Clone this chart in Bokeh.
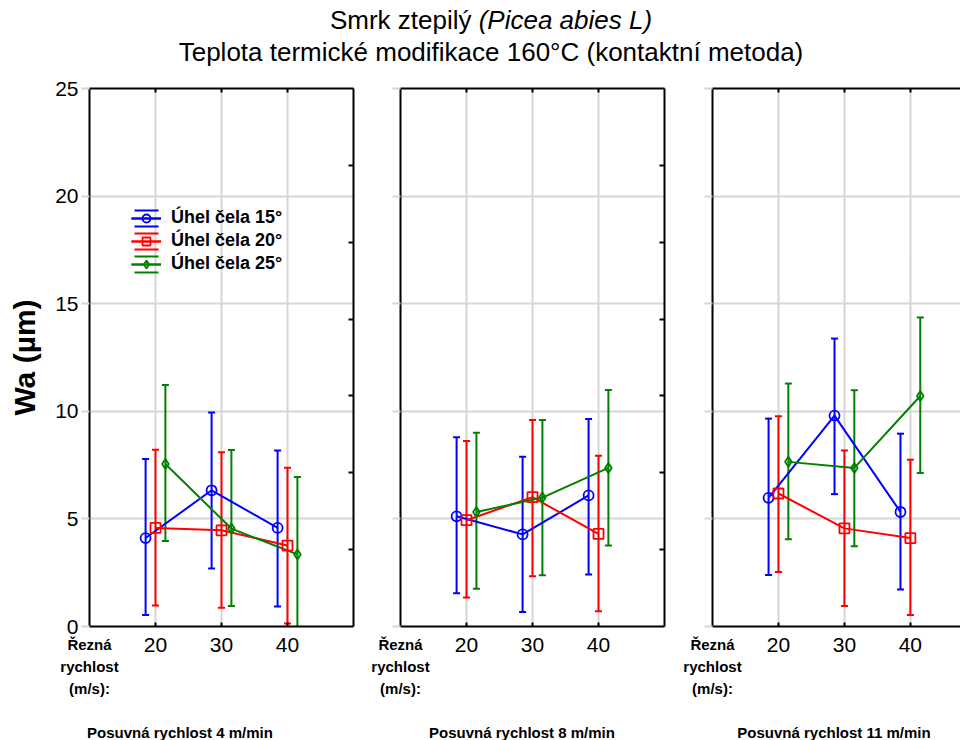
from bokeh.plotting import figure
from bokeh.models import (Range1d, LinearAxis, FixedTicker, Legend, LegendItem,
                          Div, ColumnDataSource, Grid, CustomLabelingPolicy)
from bokeh.layouts import row, column
from bokeh.transform import dodge
from bokeh.embed import file_html
from bokeh.resources import INLINE

# ---------------- data ----------------
cutting_speed = [20, 30, 40]
series_names = ["Úhel čela 15°", "Úhel čela 20°", "Úhel čela 25°"]
feed_titles = ["Posuvná rychlost 4 m/min", "Posuvná rychlost 8 m/min", "Posuvná rychlost 11 m/min"]
speed_caption = "Řezná\nrychlost\n(m/s):"
y_ticks = [0, 5, 10, 15, 20, 25]

# feed 4 m/min
f4_a15_mean = [4.11, 6.33, 4.58]
f4_a15_low = [0.54, 2.69, 0.93]
f4_a15_up = [7.78, 9.94, 8.18]
f4_a20_mean = [4.58, 4.47, 3.76]
f4_a20_low = [0.98, 0.87, 0.14]
f4_a20_up = [8.21, 8.10, 7.38]
f4_a25_mean = [7.55, 4.55, 3.35]
f4_a25_low = [3.97, 0.95, -0.25]
f4_a25_up = [11.22, 8.20, 6.95]

# feed 8 m/min
f8_a15_mean = [5.12, 4.28, 6.09]
f8_a15_low = [1.55, 0.67, 2.42]
f8_a15_up = [8.79, 7.89, 9.64]
f8_a20_mean = [4.94, 6.01, 4.30]
f8_a20_low = [1.35, 2.34, 0.71]
f8_a20_up = [8.62, 9.59, 7.93]
f8_a25_mean = [5.32, 5.99, 7.37]
f8_a25_low = [1.75, 2.38, 3.76]
f8_a25_up = [9.00, 9.59, 10.99]

# feed 11 m/min
f11_a15_mean = [5.98, 9.80, 5.32]
f11_a15_low = [2.39, 6.15, 1.72]
f11_a15_up = [9.66, 13.38, 8.96]
f11_a20_mean = [6.18, 4.56, 4.11]
f11_a20_low = [2.53, 0.95, 0.53]
f11_a20_up = [9.77, 8.18, 7.75]
f11_a25_mean = [7.65, 7.37, 10.71]
f11_a25_low = [4.05, 3.73, 7.13]
f11_a25_up = [11.29, 10.98, 14.36]

panels = [
    [(f4_a15_mean, f4_a15_low, f4_a15_up), (f4_a20_mean, f4_a20_low, f4_a20_up), (f4_a25_mean, f4_a25_low, f4_a25_up)],
    [(f8_a15_mean, f8_a15_low, f8_a15_up), (f8_a20_mean, f8_a20_low, f8_a20_up), (f8_a25_mean, f8_a25_low, f8_a25_up)],
    [(f11_a15_mean, f11_a15_low, f11_a15_up), (f11_a20_mean, f11_a20_low, f11_a20_up), (f11_a25_mean, f11_a25_low, f11_a25_up)],
]

# ---------------- style ----------------
FONT = "Liberation Sans"
COLORS = ["#0000ff", "#ff0000", "#008000"]
MARKERS = ["circle", "square", "diamond"]
OFFSETS = [-1.5, 0.0, 1.5]
GRID = "#d6d6d6"

layout_cfg = [
    dict(x_end=50, fw=264, bl=89, br=15, right=True, ylabels=True),
    dict(x_end=50, fw=264, bl=32, br=16, right=True, ylabels=False),
    dict(x_end=47.6, fw=248, bl=32, br=0, right=False, ylabels=False),
]


def no_labels():
    return CustomLabelingPolicy(code="for (const i of Array.from(indices)) { indices.unset(i) }\nreturn indices")


def make_panel(idx):
    cfg = layout_cfg[idx]
    p = figure(frame_width=cfg["fw"], frame_height=538,
               x_range=Range1d(10, cfg["x_end"]), y_range=Range1d(0, 25),
               x_axis_location=None, y_axis_location=None,
               output_backend="svg", toolbar_location=None,
               min_border_left=cfg["bl"], min_border_right=cfg["br"],
               min_border_top=20, min_border_bottom=76)
    p.outline_line_color = None
    p.background_fill_color = "white"
    p.border_fill_color = "white"
    for g in p.grid:
        g.visible = False

    p.add_layout(Grid(dimension=0, ticker=FixedTicker(ticks=cutting_speed),
                      grid_line_color=GRID, grid_line_width=2))
    p.add_layout(Grid(dimension=1, ticker=FixedTicker(ticks=y_ticks),
                      grid_line_color=GRID, grid_line_width=2))

    # left axis
    yl = LinearAxis(ticker=FixedTicker(ticks=y_ticks),
                    axis_line_width=2, axis_line_color="black",
                    major_tick_out=8, major_tick_in=0,
                    major_tick_line_color=GRID, major_tick_line_width=2,
                    minor_tick_out=0, minor_tick_in=0,
                    major_label_text_font=FONT,
                    major_label_text_color="black")
    if cfg["ylabels"]:
        yl.major_label_text_font_size = "21px"
        yl.major_label_standoff = 3
        yl.axis_label = "Wa (µm)"
        yl.axis_label_text_font = FONT
        yl.axis_label_text_font_size = "30px"
        yl.axis_label_text_font_style = "bold"
        yl.axis_label_text_color = "black"
        yl.axis_label_standoff = 11
    else:
        yl.major_label_text_font_size = "1px"
        yl.major_label_standoff = 0
        yl.major_label_policy = no_labels()
    p.add_layout(yl, "left")

    # bottom axis with cutting speed tick labels (short inward ticks)
    xb = LinearAxis(ticker=FixedTicker(ticks=cutting_speed),
                    axis_line_width=2, axis_line_color="black",
                    major_tick_out=0, major_tick_in=4,
                    major_tick_line_width=2, major_tick_line_color="black",
                    minor_tick_out=0, minor_tick_in=0,
                    major_label_text_font=FONT, major_label_text_font_size="21px",
                    major_label_text_color="black", major_label_standoff=11)
    p.add_layout(xb, "below")

    # second bottom axis carrying the "Řezná rychlost (m/s):" caption at the frame's left edge
    xc = LinearAxis(ticker=FixedTicker(ticks=[10]),
                    major_label_overrides={10: speed_caption},
                    axis_line_color=None,
                    major_tick_out=0, major_tick_in=0,
                    minor_tick_out=0, minor_tick_in=0,
                    major_label_text_font=FONT, major_label_text_font_size="15px",
                    major_label_text_font_style="bold",
                    major_label_text_line_height=1.3,
                    major_label_text_color="black", major_label_standoff=-19)
    p.add_layout(xc, "below")

    # top frame line (short inward ticks)
    xt = LinearAxis(ticker=FixedTicker(ticks=cutting_speed),
                    axis_line_width=2, axis_line_color="black",
                    major_tick_out=0, major_tick_in=4,
                    major_tick_line_width=2, major_tick_line_color="black",
                    minor_tick_out=0, minor_tick_in=0,
                    major_label_text_font_size="1px", major_label_standoff=0,
                    major_label_policy=no_labels())
    p.add_layout(xt, "above")

    if cfg["right"]:
        yr = LinearAxis(ticker=FixedTicker(ticks=[25 * k / 7 for k in range(1, 7)]),
                        axis_line_width=2, axis_line_color="black",
                        major_tick_out=0, major_tick_in=5,
                        major_tick_line_width=2, major_tick_line_color="black",
                        minor_tick_out=0, minor_tick_in=0,
                        major_label_text_font_size="1px", major_label_standoff=0,
                        major_label_policy=no_labels())
        p.add_layout(yr, "right")

    sources = [ColumnDataSource(dict(speed=cutting_speed, mean=m, low=lo, up=up))
               for (m, lo, up) in panels[idx]]

    # error bars
    for j, src in enumerate(sources):
        x = dodge("speed", OFFSETS[j])
        p.segment(x0=x, y0="low", x1=x, y1="up", source=src,
                  line_color=COLORS[j], line_width=2)
        p.scatter(x=x, y="low", marker="dash", size=7, source=src,
                  line_color=COLORS[j], line_width=2)
        p.scatter(x=x, y="up", marker="dash", size=7, source=src,
                  line_color=COLORS[j], line_width=2)

    line_r, mark_r = [], []
    for j, src in enumerate(sources):
        x = dodge("speed", OFFSETS[j])
        line_r.append(p.line(x=x, y="mean", source=src, line_color=COLORS[j], line_width=2))
    for j, src in enumerate(sources):
        x = dodge("speed", OFFSETS[j])
        mark_r.append(p.scatter(x=x, y="mean", marker=MARKERS[j], size=10,
                                source=src, line_color=COLORS[j], line_width=1.8,
                                fill_color="white", fill_alpha=0.0))

    if idx == 0:
        items = []
        for j, src in enumerate(sources):
            x = dodge("speed", OFFSETS[j])
            # hidden renderers of the same error-bar data, used only for the legend symbol
            caps = p.quad(left=x, right=x, top="up", bottom="low", source=src,
                          fill_color=None, line_color=COLORS[j], line_width=2,
                          line_dash="24 16", visible=False)
            vbar = p.vspan(x=x, source=src, line_color=COLORS[j], line_width=2, visible=False)
            items.append(LegendItem(label=series_names[j],
                                    renderers=[caps, vbar, line_r[j], mark_r[j]]))
        legend = Legend(items=items,
                        location=(42, 352), glyph_width=30, glyph_height=20, spacing=2,
                        padding=0, margin=0, label_standoff=10,
                        label_text_font=FONT, label_text_font_style="bold",
                        label_text_font_size="18px", label_text_color="black",
                        border_line_alpha=0, background_fill_alpha=0)
        p.add_layout(legend)
    return p


figs = [make_panel(i) for i in range(3)]

title = Div(text=('<div style="font-family:\'Liberation Sans\',Arial,sans-serif;font-size:26px;'
                  'line-height:32px;text-align:center;color:black;width:960px;'
                  'position:relative;left:6px;top:-1px;">'
                  'Smrk ztepilý <i>(Picea abies L)</i><br>'
                  'Teplota termické modifikace 160°C (kontaktní metoda)</div>'),
            width=960, height=58)

cap_centers = [175, 517, 829]
spans = "".join(
    '<span style="position:absolute;left:%dpx;top:18px;transform:translateX(-50%%);white-space:nowrap;">%s</span>'
    % (c, t) for c, t in zip(cap_centers, feed_titles))
captions = Div(text=('<div style="position:relative;width:960px;height:30px;line-height:16px;'
                     'font-family:\'Liberation Sans\',Arial,sans-serif;font-size:15px;'
                     'font-weight:bold;color:black;">' + spans + '</div>'),
               width=960, height=30)

layout = column(title, row(*figs, spacing=0), captions, spacing=0)

open("out.html", "w").write(file_html(layout, INLINE))
